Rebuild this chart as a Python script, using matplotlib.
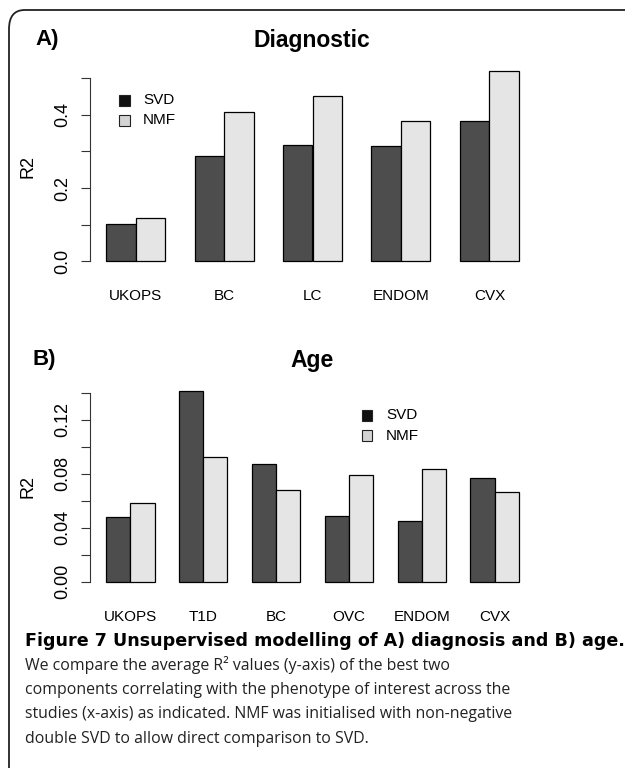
import matplotlib
matplotlib.use('Agg')
import matplotlib.pyplot as plt
from matplotlib.patches import FancyBboxPatch, Rectangle
import numpy as np

# values
diag_studies = ['UKOPS', 'BC', 'LC', 'ENDOM', 'CVX']
diag_svd = [0.101, 0.288, 0.319, 0.314, 0.383]
diag_nmf = [0.119, 0.407, 0.451, 0.384, 0.520]

age_studies = ['UKOPS', 'T1D', 'BC', 'OVC', 'ENDOM', 'CVX']
age_svd = [0.048, 0.1415, 0.087, 0.049, 0.045, 0.077]
age_nmf = [0.0585, 0.092, 0.068, 0.079, 0.0835, 0.0667]

diag_ticks = [0.0, 0.1, 0.2, 0.3, 0.4, 0.5]
diag_ticklabels = ['0.0', '', '0.2', '', '0.4', '']
age_ticks = [0.0, 0.02, 0.04, 0.06, 0.08, 0.10, 0.12, 0.14]
age_ticklabels = ['0.00', '', '0.04', '', '0.08', '', '0.12', '']

SVD_COL = '#4d4d4d'
NMF_COL = '#e5e5e5'
W, H = 625, 768

plt.rcParams['font.family'] = ['Liberation Sans', 'DejaVu Sans']

fig = plt.figure(figsize=(W / 100, H / 100), dpi=100)


def px_axes(left, top, right, bottom):
    return fig.add_axes([left / W, 1 - bottom / H, (right - left) / W, (bottom - top) / H])


def barpanel(ax, studies, svd, nmf, ticks, ticklabels):
    n = len(studies)
    # R barplot(beside=TRUE) layout: bar width 1, gap 1 between groups
    left_svd = np.arange(n) * 3 + 1
    ax.bar(left_svd, svd, width=1, align='edge', color=SVD_COL, edgecolor='black', linewidth=0.9)
    ax.bar(left_svd + 1, nmf, width=1, align='edge', color=NMF_COL, edgecolor='black', linewidth=0.9)
    lo, hi = 1, 3 * n
    ax.set_xlim(lo - 0.04 * (hi - lo), hi + 0.04 * (hi - lo))
    top = max(max(svd), max(nmf))
    ax.set_ylim(-0.04 * top, top * 1.04)
    for s in ['top', 'right', 'bottom']:
        ax.spines[s].set_visible(False)
    ax.spines['left'].set_bounds(ticks[0], ticks[-1])
    ax.spines['left'].set_color('#333333')
    ax.set_yticks(ticks)
    ax.set_yticklabels(ticklabels, rotation=90, va='center', fontsize=13)
    ax.tick_params(axis='y', length=6.5, width=0.8, color='#333333', pad=7)
    ax.set_xticks(left_svd + 1)
    ax.set_xticklabels(studies, fontsize=11)
    ax.tick_params(axis='x', length=0, pad=15)
    ax.patch.set_alpha(0)


axA = px_axes(89.5, 63.6, 535.5, 268.6)
barpanel(axA, diag_studies, diag_svd, diag_nmf, diag_ticks, diag_ticklabels)
axB = px_axes(89.5, 383.0, 535.5, 589.3)
barpanel(axB, age_studies, age_svd, age_nmf, age_ticks, age_ticklabels)


def ftext(x, y, s, **kw):
    fig.text(x / W, 1 - y / H, s, **kw)


ftext(312, 40, 'Diagnostic', fontsize=16.5, fontweight='bold', ha='center', va='center')
ftext(35, 39, 'A)', fontsize=16, fontweight='bold', ha='left', va='center')
ftext(312, 361, 'Age', fontsize=16.5, fontweight='bold', ha='center', va='center')
ftext(33, 360, 'B)', fontsize=16, fontweight='bold', ha='left', va='center')
ftext(28, 167, 'R2', fontsize=13, rotation=90, ha='center', va='center')
ftext(28, 487, 'R2', fontsize=13, rotation=90, ha='center', va='center')


def legend(x, y1, y2, tx):
    for yy, col, lab in [(y1, '#111111', 'SVD'), (y2, '#d4d4d4', 'NMF')]:
        fig.patches.append(Rectangle(((x - 5.5) / W, 1 - (yy + 5.5) / H), 11 / W, 11 / H,
                                     transform=fig.transFigure, facecolor=col,
                                     edgecolor='#222222', linewidth=0.8))
        ftext(tx, yy, lab, fontsize=11, ha='left', va='center')


legend(124, 100, 120.5, 143)
legend(367, 415, 435.7, 386)

# frame round the figure
fig.patches.append(FancyBboxPatch((9 / W, -0.1), 1.2, 1.1 - 10 / H,
                                  boxstyle='round,pad=0,rounding_size=0.025',
                                  transform=fig.transFigure, facecolor='none',
                                  edgecolor='#222222', linewidth=1.3))

cap = ['We compare the average R\u00b2 values (y-axis) of the best two',
       'components correlating with the phenotype of interest across the',
       'studies (x-axis) as indicated. NMF was initialised with non-negative',
       'double SVD to allow direct comparison to SVD.']
ftext(25, 646, 'Figure 7 Unsupervised modelling of A) diagnosis and B) age.',
      family='DejaVu Sans', fontweight='bold', fontsize=12.6, ha='left', va='baseline')
for i, line in enumerate(cap):
    ftext(25, 670 + 24.2 * i, line, family='Open Sans', fontsize=11.4, ha='left',
          va='baseline', color='#222222')

fig.savefig('out.png', dpi=100)
